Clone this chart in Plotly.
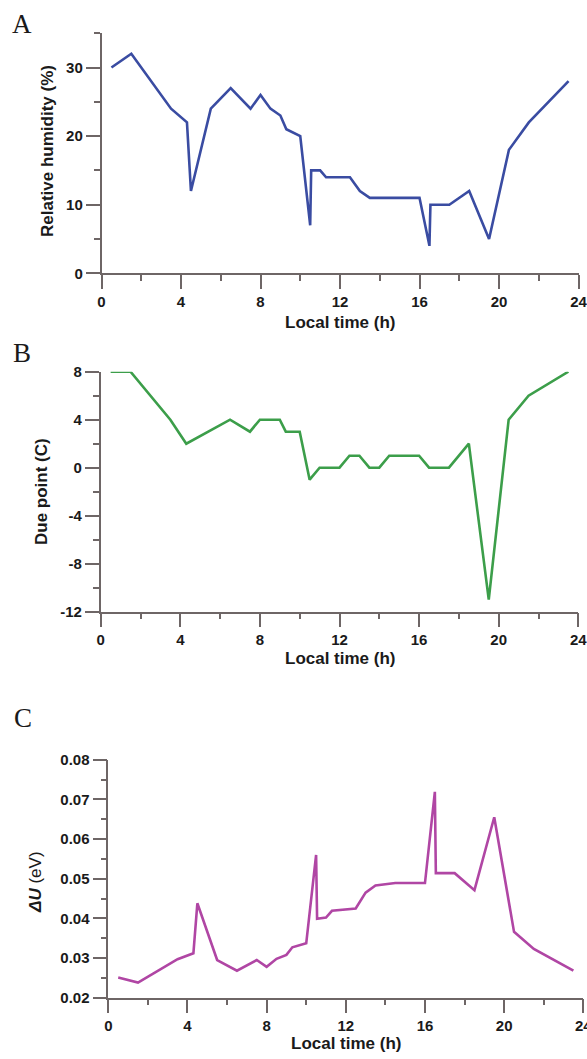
import plotly.graph_objects as go

# ---- data ----
hours_a = [0.5, 1.5, 3.5, 4.3, 4.5, 5.5, 6.5, 7.5, 8, 8.5, 9, 9.3, 10, 10.5, 10.55,
           11, 11.3, 12.5, 13, 13.5, 16, 16.5, 16.55, 17.5, 18.5, 19.5, 20.5, 21.5, 23.5]
rel_humidity = [30, 32, 24, 22, 12, 24, 27, 24, 26, 24, 23, 21, 20, 7, 15,
                15, 14, 14, 12, 11, 11, 4, 10, 10, 12, 5, 18, 22, 28]

hours_b = [0.5, 1.5, 3.5, 4.3, 6.5, 7.5, 8, 9, 9.3, 10, 10.5, 11, 12, 12.5, 13,
           13.5, 14, 14.5, 16, 16.5, 17.5, 18.5, 19.5, 20.5, 21.5, 23.5]
dew_point = [8, 8, 4, 2, 4, 3, 4, 4, 3, 3, -1, 0, 0, 1, 1,
             0, 0, 1, 1, 0, 0, 2, -11, 4, 6, 8]
dew_ticks = [-12, -8, -4, 0, 4, 8]
dew_tick_labels = ["-12", "-8", "-4", "0", "4", "8"]

hours_c = [0.5, 1.5, 3.5, 4.3, 4.5, 5.5, 6.5, 7.5, 8, 8.5, 9, 9.3, 10, 10.5, 10.55,
           11, 11.3, 12.5, 13, 13.5, 14.5, 16, 16.5, 16.55, 17.5, 18.5, 19.5, 20.5, 21.5, 23.5]
delta_u = [0.0251, 0.0238, 0.0297, 0.0312, 0.0438, 0.0295, 0.0268, 0.0295, 0.0278, 0.0298,
           0.0308, 0.0327, 0.0337, 0.0560, 0.0399, 0.0402, 0.0419, 0.0425, 0.0465, 0.0483,
           0.0489, 0.0489, 0.0719, 0.0514, 0.0514, 0.0471, 0.0655, 0.0366, 0.0323, 0.0268]

W, H = 587, 1059
axis_col = "#6e6666"
txt_col = "#1a1a1a"
tick_font = dict(family="Liberation Sans, Arial", size=15, color=txt_col, weight="bold")
title_font = dict(family="Liberation Sans, Arial", size=17, color=txt_col, weight="bold")


def px_x(x0, x1):
    return [x0 / W, x1 / W]


def px_y(top, bottom):
    # pixel rows (from top) -> paper domain (from bottom)
    return [(H - bottom) / H, (H - top) / H]


def xaxis(dom, anchor):
    return dict(domain=dom, anchor=anchor, range=[0, 24], tick0=0, dtick=4,
                ticks="outside", ticklen=14, tickwidth=1.5, tickcolor=axis_col,
                showline=True, linecolor=axis_col, linewidth=1.5,
                showgrid=False, zeroline=False, automargin=False,
                tickfont=tick_font, ticklabeloverflow="allow",
                minor=dict(dtick=2, tick0=0, ticks="outside", ticklen=6,
                           tickwidth=1.5, tickcolor=axis_col, showgrid=False))


def yaxis(dom, anchor, rng, dtick, minor, fmt=None):
    d = dict(domain=dom, anchor=anchor, range=rng, tick0=rng[0], dtick=dtick,
             ticks="outside", ticklen=14, tickwidth=1.5, tickcolor=axis_col,
             showline=True, linecolor=axis_col, linewidth=1.5,
             showgrid=False, zeroline=False, automargin=False,
             tickfont=tick_font,
             minor=dict(dtick=minor, tick0=rng[0], ticks="outside", ticklen=6,
                        tickwidth=1.5, tickcolor=axis_col, showgrid=False))
    if fmt:
        d["tickformat"] = fmt
    return d


fig = go.Figure()
fig.add_trace(go.Scatter(x=hours_a, y=rel_humidity, mode="lines",
                         line=dict(color="#3a4ca2", width=2.6), xaxis="x", yaxis="y"))
fig.add_trace(go.Scatter(x=hours_b, y=dew_point, mode="lines",
                         line=dict(color="#3c9e4a", width=2.6), xaxis="x2", yaxis="y2"))
fig.add_trace(go.Scatter(x=hours_c, y=delta_u, mode="lines",
                         line=dict(color="#b046a4", width=2.6), xaxis="x3", yaxis="y3"))

annotations = []


def note(text, x, y, font, angle=0):
    annotations.append(dict(text=text, x=x / W, y=(H - y) / H, xref="paper", yref="paper",
                            showarrow=False, xanchor="center", yanchor="middle",
                            textangle=angle, font=font))


letter_font = dict(family="Liberation Serif, Times New Roman", size=27, color=txt_col)
note("A", 22, 24, letter_font)
note("B", 22, 353, letter_font)
note("C", 23, 718, letter_font)

note("Local time (h)", 340, 322, title_font)
note("Local time (h)", 340, 659, title_font)
note("Local time (h)", 346, 1043, title_font)

note("Relative humidity (%)", 47, 151, title_font, -90)
note("Due point (C)", 41, 492, title_font, -90)
note("<i>ΔU</i> <span style='font-weight:normal'>(eV)</span>", 35, 882, title_font, -90)

yaxis_b = yaxis(px_y(371.7, 611.7), "x2", [-12, 8], 4, 2)
yaxis_b.update(tickmode="array", tickvals=dew_ticks, ticktext=dew_tick_labels)

fig.update_layout(
    width=W, height=H,
    margin=dict(l=0, r=0, t=0, b=0),
    paper_bgcolor="white", plot_bgcolor="white",
    showlegend=False,
    xaxis=xaxis(px_x(101.5, 578.5), "y"),
    yaxis=yaxis(px_y(33.2, 273.3), "x", [0, 35], 10, 5),
    xaxis2=xaxis(px_x(100.7, 578.3), "y2"),
    yaxis2=yaxis_b,
    xaxis3=xaxis(px_x(108.3, 583.3), "y3"),
    yaxis3=yaxis(px_y(759.7, 997.7), "x3", [0.02, 0.08], 0.01, 0.005, ".2f"),
    annotations=annotations,
)

# drop the default 8px page margin so the figure sits at the window's corner
fig.write_html("out.html", config={"displayModeBar": False},
               post_script="document.body.style.margin='0';")
